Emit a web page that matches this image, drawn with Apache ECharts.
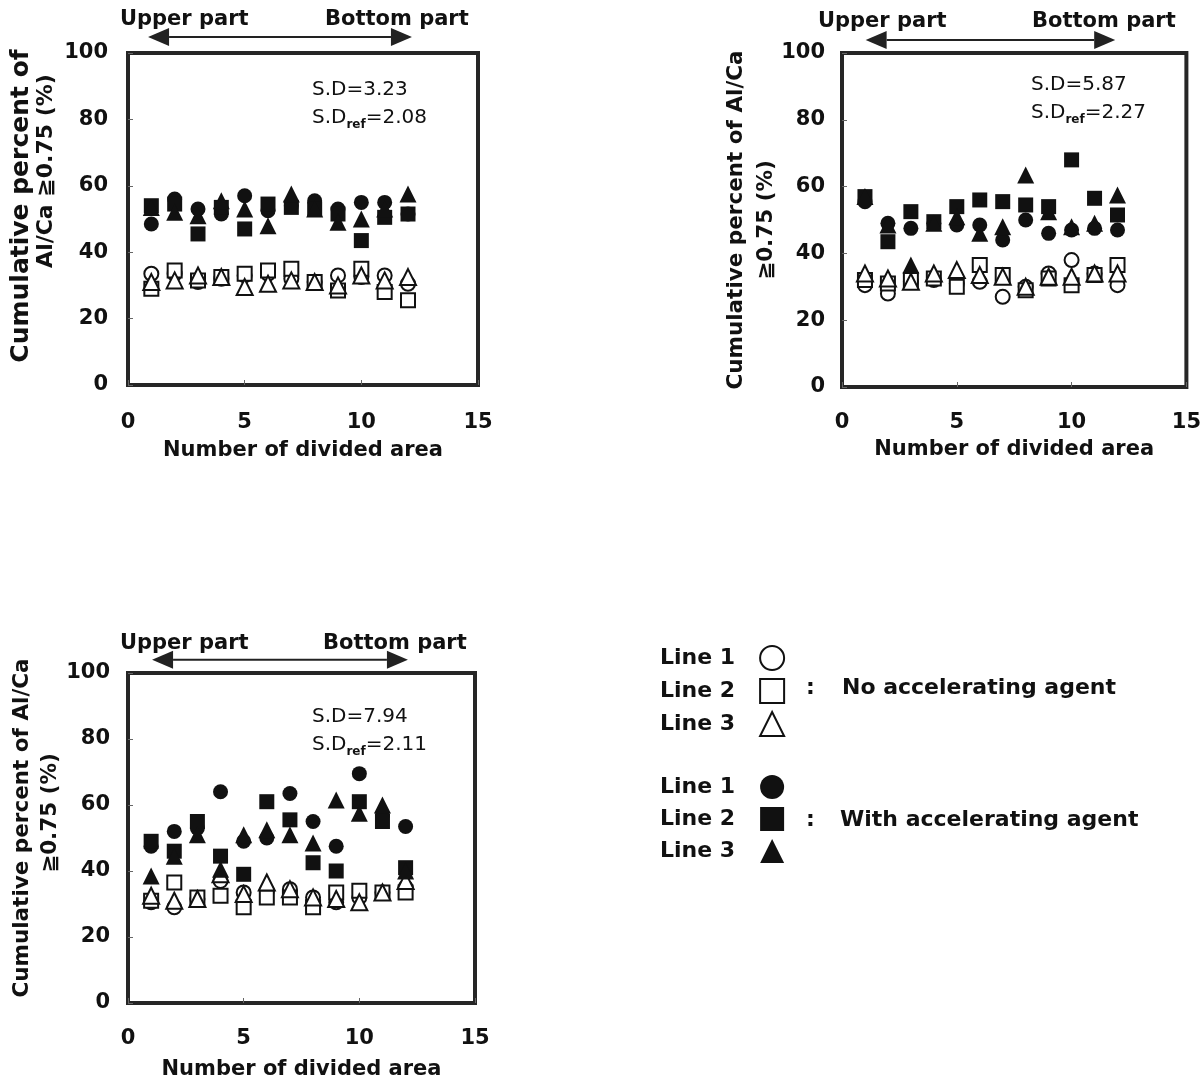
<!DOCTYPE html>
<html>
<head>
<meta charset="utf-8">
<title>Cumulative percent of Al/Ca ≧0.75 by divided area</title>
<script src="https://cdn.jsdelivr.net/npm/echarts@6/dist/echarts.min.js"></script>
<style>
  html, body { margin: 0; padding: 0; background: #fff; }
  #chart { width: 1204px; height: 1084px; }
</style>
</head>
<body>
<div id="chart"></div>
<script>
// number of divided area (x)
const areas = [1, 2, 3, 4, 5, 6, 7, 8, 9, 10, 11, 12];
const xTicks = [0, 5, 10, 15];
const yTicks = [0, 20, 40, 60, 80, 100];

// panel 1 (top left)
const p1Open1 = [33.5, 33.5, 31, 32, 33, 33.5, 32, 31, 33, 32.5, 33, 30.5];
const p1Open2 = [29, 34.5, 31.5, 32.5, 33.5, 34.5, 35, 31, 28.5, 35, 28, 25.5];
const p1Open3 = [31, 31.5, 33, 32.5, 29.5, 30.5, 31.5, 31, 30, 33, 31.5, 32.5];
const p1Fill1 = [48.5, 56, 53, 51.5, 57, 52.5, 54, 55.5, 53, 55, 55, 51.5];
const p1Fill2 = [54, 54.5, 45.5, 53.5, 47, 54.5, 53.5, 53, 51.5, 43.5, 50.5, 51.5];
const p1Fill3 = [53.5, 52, 51, 55.5, 53, 48, 57.5, 53, 49, 50, 53, 57.5];

// panel 2 (top right)
const p2Open1 = [30.5, 28, 31.5, 32, 31, 31.5, 27, 30, 34, 38, 34, 30.5];
const p2Open2 = [32, 31, 32, 32.5, 30, 36.5, 33.5, 29, 32.5, 30.5, 33.5, 36.5];
const p2Open3 = [34, 32.5, 31.5, 34, 35, 33.5, 33, 30, 33, 33, 34, 34];
const p2Fill1 = [55.5, 49, 47.5, 49, 48.5, 48.5, 44, 50, 46, 47, 47.5, 47];
const p2Fill2 = [57, 43.5, 52.5, 49.5, 54, 56, 55.5, 54.5, 54, 68, 56.5, 51.5];
const p2Fill3 = [57, 48.5, 36.5, 49, 51, 46, 48, 63.5, 52.5, 48, 49, 57.5];

// panel 3 (bottom left)
const p3Open1 = [30.5, 29, 31.5, 37, 33.5, 34, 34.5, 32, 30.5, 32, 33.5, 35];
const p3Open2 = [31, 36.5, 32, 32.5, 29, 32, 32, 29, 33.5, 34, 33.5, 33.5];
const p3Open3 = [32.5, 31, 31.5, 39, 33, 36.5, 34.5, 32, 31.5, 30.5, 33.5, 37];
const p3Fill1 = [47.5, 52, 53, 64, 49, 50, 63.5, 55, 47.5, 69.5, 57, 53.5];
const p3Fill2 = [49, 46, 55, 44.5, 39, 61, 55.5, 42.5, 40, 61, 55, 41];
const p3Fill3 = [38.5, 44.5, 51, 40.5, 51, 52.5, 51, 48.5, 61.5, 57.5, 60, 40];

// standard deviations printed in each panel
const sdValues = ["3.23", "5.87", "7.94"];
const sdRefValues = ["2.08", "2.27", "2.11"];

const seriesNames = [
  "Line 1, no agent", "Line 2, no agent", "Line 3, no agent",
  "Line 1, with agent", "Line 2, with agent", "Line 3, with agent",
];

const FONT = "'DejaVu Sans', 'Noto Sans CJK JP', sans-serif";
const INK = "#111";

const panels = [
  {
    grid: { left: 128, top: 53, width: 350, height: 332 },
    data: [p1Open1, p1Open2, p1Open3, p1Fill1, p1Fill2, p1Fill3],
    arrowX: [0.86, 12.17], arrowY: 104.8,
    upper: [120, 20], bottom: [325, 20], sd: [312, 90],
    xNameGap: 55, xLabelMargin: 27, yLabelMargin: 20,
    yName: "{a|Cumulative percent of}\n{b|Al/Ca ≧0.75 (%)}",
    yNameGap: 69, yRich: { a: [25, 25, 26], b: [22, 25, 96] },
  },
  {
    grid: { left: 842, top: 53, width: 348, height: 334 },
    data: [p2Open1, p2Open2, p2Open3, p2Fill1, p2Fill2, p2Fill3],
    arrowX: [1.03, 11.9], arrowY: 103.9,
    upper: [818, 22], bottom: [1032, 22], sd: [1031, 85],
    xNameGap: 52, xLabelMargin: 25, yLabelMargin: 17,
    yName: "{a|Cumulative percent of Al/Ca}\n{b|≧0.75 (%)}",
    yNameGap: 60, yRich: { a: [21.5, 30, 0], b: [21.5, 30, 0] },
  },
  {
    grid: { left: 128, top: 673, width: 347, height: 330 },
    data: [p3Open1, p3Open2, p3Open3, p3Fill1, p3Fill2, p3Fill3],
    arrowX: [1.04, 12.1], arrowY: 104,
    upper: [120, 644], bottom: [323, 644], sd: [312, 717],
    xNameGap: 56, xLabelMargin: 25, yLabelMargin: 18,
    yName: "{a|Cumulative percent of Al/Ca}\n{b|≧0.75 (%)}",
    yNameGap: 64, yRich: { a: [21.5, 28, 20], b: [21.5, 28, 50] },
  },
];

// marker look for each of the six series
const markerStyles = [
  { symbol: "circle", size: 14, filled: false },
  { symbol: "rect", size: 14, filled: false },
  { symbol: "triangle", size: 16, filled: false },
  { symbol: "circle", size: 15, filled: true },
  { symbol: "rect", size: 15, filled: true },
  { symbol: "triangle", size: 17, filled: true },
];

const boldText = (size) => ({
  fontFamily: FONT, fontSize: size, fontWeight: "bold", color: INK,
});

const grids = [];
const xAxes = [];
const yAxes = [];
const series = [];

panels.forEach((p, i) => {
  grids.push({
    ...p.grid,
    show: true,
    borderColor: "#262626",
    borderWidth: 4,
    backgroundColor: "transparent",
  });
  xAxes.push({
    type: "value", gridIndex: i,
    min: xTicks[0], max: xTicks[xTicks.length - 1], interval: xTicks[1] - xTicks[0],
    name: "Number of divided area", nameLocation: "middle", nameGap: p.xNameGap,
    nameTextStyle: boldText(21),
    axisLine: { show: false },
    axisTick: { show: true, inside: true, length: 5, lineStyle: { color: "#666" } },
    axisLabel: { ...boldText(21), margin: p.xLabelMargin, showMinLabel: true, showMaxLabel: true },
    splitLine: { show: false },
  });
  const rich = {};
  Object.keys(p.yRich).forEach((k) => {
    const [fs, lh, padLeft] = p.yRich[k];
    rich[k] = { ...boldText(fs), lineHeight: lh, padding: [0, 0, 0, padLeft] };
  });
  yAxes.push({
    type: "value", gridIndex: i,
    min: yTicks[0], max: yTicks[yTicks.length - 1], interval: yTicks[1] - yTicks[0],
    name: p.yName, nameLocation: "middle", nameGap: p.yNameGap, nameRotate: 90,
    nameTextStyle: { ...boldText(21.5), rich },
    axisLine: { show: false },
    axisTick: { show: true, inside: true, length: 5, lineStyle: { color: "#666" } },
    axisLabel: { ...boldText(21), margin: p.yLabelMargin, showMinLabel: true, showMaxLabel: true },
    splitLine: { show: false },
  });
  p.data.forEach((values, k) => {
    const m = markerStyles[k];
    series.push({
      name: seriesNames[k],
      type: "scatter",
      xAxisIndex: i, yAxisIndex: i,
      symbol: m.symbol,
      symbolSize: m.size,
      data: values.map((v, j) => [areas[j], v]),
      itemStyle: m.filled
        ? { color: INK, borderWidth: 0, opacity: 1 }
        : { color: "#fff", borderColor: INK, borderWidth: 2, opacity: 1 },
      emphasis: { disabled: true },
    });
  });
});

const legendBase = {
  orient: "vertical",
  left: 655,
  align: "right",
  itemWidth: 24,
  itemHeight: 24,
  selectedMode: false,
  formatter: (name) => name.split(",")[0],
  textStyle: { ...boldText(22), padding: [0, 20, 0, 0] },
};

const option = {
  backgroundColor: "#fff",
  animation: false,
  grid: grids,
  xAxis: xAxes,
  yAxis: yAxes,
  legend: [
    { ...legendBase, top: 640, itemGap: 7, data: seriesNames.slice(0, 3) },
    { ...legendBase, top: 770, itemGap: 8, data: seriesNames.slice(3) },
  ],
  series: series,
};

const chart = echarts.init(document.getElementById("chart"), null, { renderer: "canvas" });
chart.setOption(option);

// annotations: arrows, region captions, S.D values, legend captions
const graphics = [];
const headLen = 21;
const headHalf = 9;

panels.forEach((p, i) => {
  const a = chart.convertToPixel({ gridIndex: i }, [p.arrowX[0], p.arrowY]);
  const b = chart.convertToPixel({ gridIndex: i }, [p.arrowX[1], p.arrowY]);
  graphics.push({
    type: "line",
    shape: { x1: a[0] + headLen, y1: a[1], x2: b[0] - headLen, y2: b[1] },
    style: { stroke: "#222", lineWidth: 2 },
  });
  graphics.push({
    type: "polygon",
    shape: { points: [[a[0], a[1]], [a[0] + headLen, a[1] - headHalf], [a[0] + headLen, a[1] + headHalf]] },
    style: { fill: "#222" },
  });
  graphics.push({
    type: "polygon",
    shape: { points: [[b[0], b[1]], [b[0] - headLen, b[1] - headHalf], [b[0] - headLen, b[1] + headHalf]] },
    style: { fill: "#222" },
  });
  graphics.push({
    type: "text", x: p.upper[0], y: p.upper[1],
    style: { text: "Upper part", font: "bold 21px " + FONT, fill: INK, verticalAlign: "middle" },
  });
  graphics.push({
    type: "text", x: p.bottom[0], y: p.bottom[1],
    style: { text: "Bottom part", font: "bold 21px " + FONT, fill: INK, verticalAlign: "middle" },
  });
  graphics.push({
    type: "text", x: p.sd[0], y: p.sd[1] - 14,
    style: {
      text: "{n|S.D=" + sdValues[i] + "}\n{n|S.D}{s|ref}{n|=" + sdRefValues[i] + "}",
      verticalAlign: "top",
      rich: {
        n: { fontFamily: FONT, fontSize: 20, fill: INK, lineHeight: 28 },
        s: { fontFamily: FONT, fontSize: 12, fontWeight: "bold", fill: INK, lineHeight: 28, padding: [14, 0, 0, 0] },
      },
    },
  });
});

const captions = [
  [806, 688, ":"], [842, 688, "No accelerating agent"],
  [806, 820, ":"], [840, 820, "With accelerating agent"],
];
captions.forEach(([x, y, t]) => {
  graphics.push({
    type: "text", x: x, y: y,
    style: { text: t, font: "bold 22px " + FONT, fill: INK, verticalAlign: "middle" },
  });
});

chart.setOption({ graphic: graphics });
</script>
</body>
</html>
